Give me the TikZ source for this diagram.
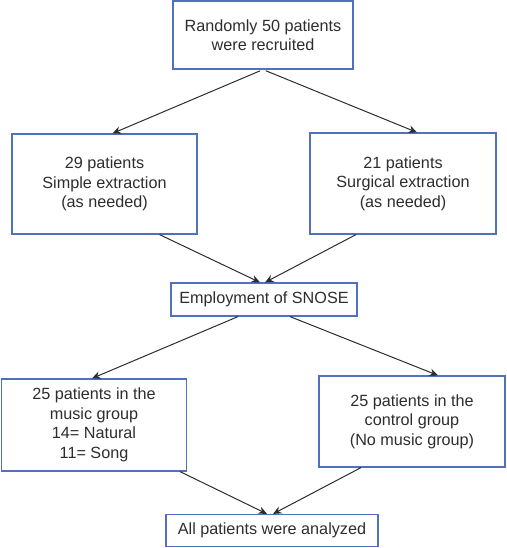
\documentclass[tikz,border=0pt]{standalone}
\usepackage{fontspec}
\setmainfont{Liberation Sans}
\usepackage{xcolor}
\usepackage{tikz}
\usetikzlibrary{shapes,arrows.meta,positioning,calc}

\definecolor{boxblue}{RGB}{79,113,190}
\definecolor{inkgray}{RGB}{45,45,45}

\begin{document}
\begin{tikzpicture}[
    x=1pt, y=-1pt,
    box/.style={draw=boxblue, line width=1.2pt, inner sep=0pt, align=center,
        text=inkgray, font=\fontsize{16.2}{19.5}\selectfont},
    arrow/.style={-{Stealth[length=8.5pt,width=7.5pt]}, line width=1pt, draw=inkgray}
]
\useasboundingbox (0,0) rectangle (506,548);

% Boxes
\node[box, minimum width=180pt, minimum height=68pt] (recruit) at (263,35) {Randomly 50 patients\\were recruited};

\node[box, minimum width=185pt, minimum height=100pt] (simple) at (104.5,184) {29 patients\\Simple extraction\\(as needed)};

\node[box, minimum width=186pt, minimum height=101pt] (surgical) at (403,183.5) {21 patients\\Surgical extraction\\(as needed)};

\node[box, minimum width=186pt, minimum height=33pt] (snose) at (264,299.5) {Employment of SNOSE};

\node[box, minimum width=185pt, minimum height=92pt] (music) at (94,425) {25 patients in the\\music group\\14= Natural\\11= Song};

\node[box, minimum width=186pt, minimum height=91pt] (control) at (412,421.5) {25 patients in the\\control group\\(No music group)};

\node[box, minimum width=212pt, minimum height=32pt] (analyzed) at (272,530.5) {All patients were analyzed};

% Arrows
\draw[arrow, shorten <=3pt] (recruit.south) -- ([xshift=8pt]simple.north);
\draw[arrow, shorten <=3pt] (recruit.south) -- ([xshift=14pt]surgical.north);

\draw[arrow] ([xshift=55pt]simple.south) -- ([xshift=-4pt]snose.north);
\draw[arrow] ([xshift=-47pt]surgical.south) -- ([xshift=1pt]snose.north);

\draw[arrow] ([xshift=-26pt]snose.south) -- ([xshift=-2pt]music.north);
\draw[arrow] ([xshift=26pt]snose.south) -- ([xshift=26pt]control.north);

\draw[arrow] ([xshift=86pt]music.south) -- ([xshift=-5pt]analyzed.north);
\draw[arrow] ([xshift=-51pt]control.south) -- ([xshift=1pt]analyzed.north);

\end{tikzpicture}
\end{document}
